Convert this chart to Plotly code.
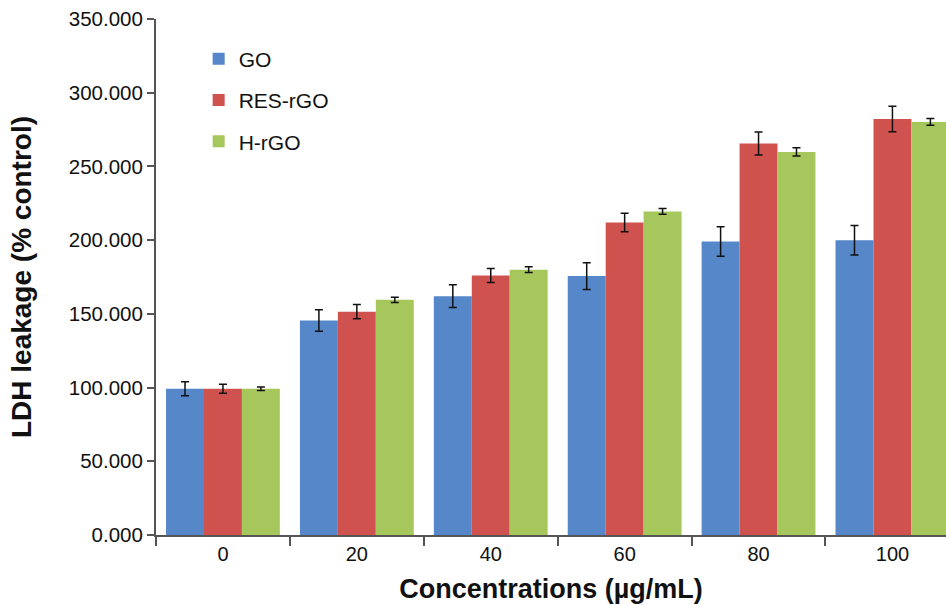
import plotly.graph_objects as go

categories = ["0", "20", "40", "60", "80", "100"]
series_names = ["GO", "RES-rGO", "H-rGO"]
go_values = [99.2, 145.5, 162.0, 175.6, 199.0, 200.0]
go_errors = [4.8, 7.3, 7.7, 9.0, 10.0, 10.0]
res_values = [99.2, 151.5, 176.0, 212.0, 265.6, 282.2]
res_errors = [3.0, 4.9, 4.8, 6.3, 7.8, 8.7]
hrgo_values = [99.2, 159.5, 180.0, 219.5, 259.8, 280.2]
hrgo_errors = [1.2, 1.8, 2.0, 2.0, 2.8, 2.3]
colors = ["#5587C9", "#D0524F", "#A6C75C"]

fig = go.Figure()
for name, vals, errs, col in zip(series_names, [go_values, res_values, hrgo_values],
                                 [go_errors, res_errors, hrgo_errors], colors):
    fig.add_trace(go.Bar(
        x=categories, y=vals, name=name, legendgroup=name,
        marker=dict(color=col, line=dict(width=0)),
        error_y=dict(type="data", array=errs, visible=True, color="#111111",
                     thickness=1.5, width=4),
    ))

font_family = "Liberation Sans, Arial, sans-serif"
fig.update_layout(
    width=946, height=605,
    margin=dict(l=156, r=0, t=19, b=70),
    paper_bgcolor="white", plot_bgcolor="white",
    barmode="group", bargap=0.15, bargroupgap=0,
    font=dict(family=font_family, size=20, color="#111111"),
    showlegend=True,
    legend=dict(x=0.054, y=0.962, xanchor="left", yanchor="top",
                font=dict(size=21), traceorder="grouped", tracegroupgap=11,
                bgcolor="rgba(0,0,0,0)"),
    xaxis=dict(
        type="category", range=[-0.5, 5.4], automargin=False,
        showline=True, linecolor="#555555", linewidth=2,
        ticks="outside", tickson="boundaries", ticklen=9, tickwidth=1.5, tickcolor="#555555",
        showgrid=False, zeroline=False,
        tickfont=dict(size=20),
        title=dict(text="<b>Concentrations (µg/mL)</b>", font=dict(size=27), standoff=15),
    ),
    yaxis=dict(
        range=[0, 350], dtick=50, tickformat=".3f", automargin=False,
        showline=True, linecolor="#555555", linewidth=2,
        ticks="outside", ticklen=7, tickwidth=1.5, tickcolor="#555555",
        showgrid=False, zeroline=False,
        tickfont=dict(size=20.5),
        title=dict(text="<b>LDH leakage (% control)</b>", font=dict(size=28), standoff=29),
    ),
)

fig.write_html("out.html", config={"displayModeBar": False},
               post_script="document.body.style.margin='0px';")
